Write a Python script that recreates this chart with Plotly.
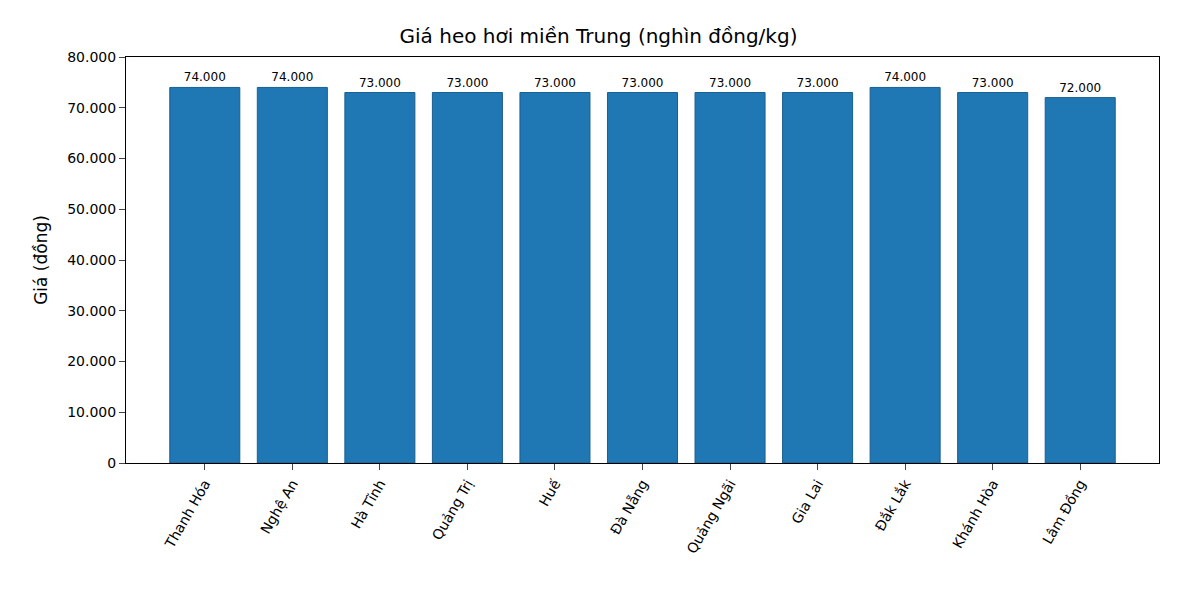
import plotly.graph_objects as go

provinces = ['Thanh Hóa', 'Nghệ An', 'Hà Tĩnh', 'Quảng Trị', 'Huế', 'Đà Nẵng',
             'Quảng Ngãi', 'Gia Lai', 'Đắk Lắk', 'Khánh Hòa', 'Lâm Đồng']
prices = [74000, 74000, 73000, 73000, 73000, 73000, 73000, 73000, 74000, 73000, 72000]
y_ticks = list(range(0, 80001, 10000))
y_labels = ['0' if v == 0 else f'{v:,}'.replace(',', '.') for v in y_ticks]
bar_text = [f'{v:,}'.replace(',', '.') for v in prices]

fig = go.Figure(go.Bar(
    x=provinces, y=prices, text=bar_text, textposition='outside',
    textfont=dict(size=12, color='black'), cliponaxis=False,
    marker=dict(color='#1f77b4', line=dict(color='#1a5f91', width=1)),
    width=0.8,
))

fig.update_layout(
    width=1181, height=591,
    plot_bgcolor='white', paper_bgcolor='white',
    font=dict(family='DejaVu Sans', color='black'),
    title=dict(text='Giá heo hơi miền Trung (nghìn đồng/kg)', x=0.5, xanchor='center',
               y=0.965, font=dict(size=20)),
    margin=dict(l=118, r=30, t=49, b=136),
    showlegend=False,
)
fig.update_xaxes(tickangle=-60, tickfont=dict(size=14), showline=True, linecolor='black',
                 mirror=True, ticks='outside', ticklen=6, range=[-0.9, 10.9])
fig.update_yaxes(range=[0, 80000], tickvals=y_ticks, ticktext=y_labels, tickfont=dict(size=14),
                 showline=True, linecolor='black', mirror=True, ticks='outside', ticklen=6,
                 showgrid=False, zeroline=False,
                 title=dict(text='Giá (đồng)', font=dict(size=17)))

fig.write_html('out.html')
